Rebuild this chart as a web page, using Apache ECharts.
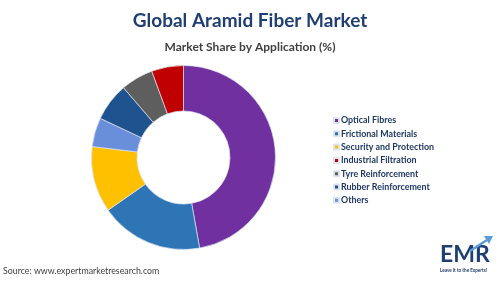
<!DOCTYPE html>
<html>
<head>
<meta charset="utf-8">
<script src="https://cdn.jsdelivr.net/npm/echarts@6/dist/echarts.min.js"></script>
<style>
html,body{margin:0;padding:0;background:#fff;}
#c{width:500px;height:281px;}
</style>
</head>
<body>
<div id="c"></div>
<script>
// Drawing order (clockwise from 12 o'clock)
var categories = ["Optical Fibres", "Frictional Materials", "Security and Protection", "Others", "Rubber Reinforcement", "Tyre Reinforcement", "Industrial Filtration"];
var values = [47.2, 18.1, 11.6, 5.1, 6.7, 5.7, 5.6];
var colors = ["#7030A0", "#2E75B6", "#FFC000", "#6A8FDA", "#1F5390", "#5E5E5E", "#C00000"];
var legendOrder = ["Optical Fibres", "Frictional Materials", "Security and Protection", "Industrial Filtration", "Tyre Reinforcement", "Rubber Reinforcement", "Others"];

var chart = echarts.init(document.getElementById('c'), null, {renderer: 'canvas'});
var fontFam = "Lato, 'Open Sans', sans-serif";
var data = categories.map(function (c, i) {
  return {name: c, value: values[i], itemStyle: {color: colors[i]}};
});
chart.setOption({
  animation: false,
  backgroundColor: '#ffffff',
  title: [{
    text: 'Global Aramid Fiber Market',
    left: 'center', top: 6,
    textStyle: {fontFamily: fontFam, fontWeight: 'bold', fontSize: 19, color: '#1F3F73'}
  }, {
    text: 'Market Share by Application (%)',
    left: 'center', top: 36,
    textStyle: {fontFamily: fontFam, fontWeight: 'bold', fontSize: 12, color: '#404040'}
  }, {
    text: 'Source: www.expertmarketresearch.com',
    left: 3, top: 267, padding: 0,
    textStyle: {fontFamily: fontFam, fontWeight: 'normal', fontSize: 8.8, color: '#404040'}
  }],
  legend: {
    data: legendOrder,
    orient: 'vertical',
    left: 328, top: 109,
    icon: 'rect',
    itemWidth: 5, itemHeight: 5,
    itemGap: 0.3,
    textStyle: {fontFamily: fontFam, fontWeight: 'bold', fontSize: 8.9, lineHeight: 13, color: '#1F3864', padding: [0, 0, 0, -3]}
  },
  graphic: [{
    type: 'text', left: 440, top: 243,
    style: {text: 'EMR', fontFamily: fontFam, fontWeight: 'bold', fontSize: 23, fill: '#1F3F73'}
  }, {
    type: 'text', left: 440, top: 268,
    style: {text: 'Leave it to the Experts!', fontFamily: fontFam, fontWeight: 'bold', fontSize: 4.6, fill: '#1F3F73'}
  }, {
    type: 'polyline', shape: {points: [[470, 251], [487, 240]]},
    style: {stroke: '#5B9BD5', lineWidth: 2.5}
  }, {
    type: 'polygon', shape: {points: [[484, 236], [493, 236], [489, 244]]},
    style: {fill: '#5B9BD5'}
  }],
  series: [{
    type: 'pie',
    radius: [46.5, 92],
    center: [183.5, 157.5],
    startAngle: 90,
    clockwise: true,
    label: {show: false},
    labelLine: {show: false},
    emphasis: {disabled: true},
    itemStyle: {borderColor: '#dde4f0', borderWidth: 0.7},
    data: data
  }]
});
</script>
</body>
</html>
